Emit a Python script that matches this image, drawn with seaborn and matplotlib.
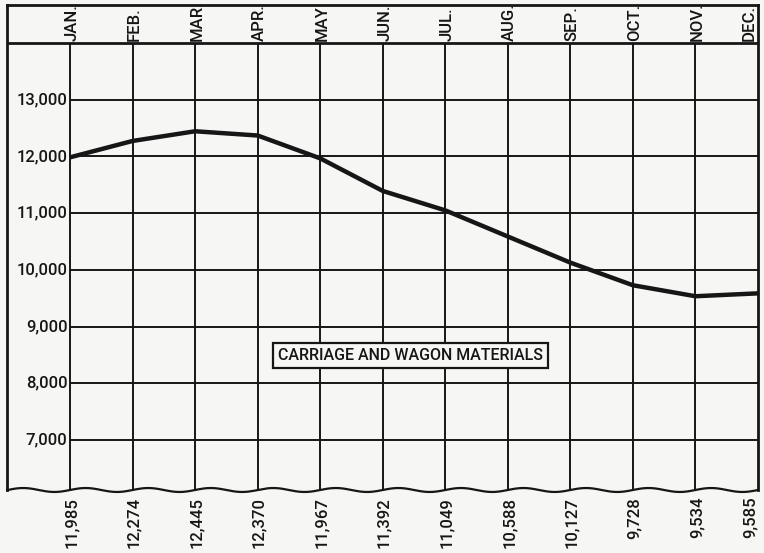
import numpy as np
import pandas as pd
import matplotlib
matplotlib.use('Agg')
import matplotlib.pyplot as plt
import seaborn as sns

months = ['JAN.', 'FEB.', 'MAR.', 'APR.', 'MAY', 'JUN.', 'JUL.', 'AUG.', 'SEP.', 'OCT.', 'NOV.', 'DEC.']
values = [11985, 12274, 12445, 12370, 11967, 11392, 11049, 10588, 10127, 9728, 9534, 9585]
value_labels = ['11,985', '12,274', '12,445', '12,370', '11,967', '11,392',
                '11,049', '10,588', '10,127', '9,728', '9,534', '9,585']
y_ticks = [7000, 8000, 9000, 10000, 11000, 12000, 13000]
y_tick_labels = ['7,000', '8,000', '9,000', '10,000', '11,000', '12,000', '13,000']
title = 'CARRIAGE AND WAGON MATERIALS'

sns.set_style('white')
plt.rcParams['font.family'] = ['Roboto', 'DejaVu Sans']
plt.rcParams['font.weight'] = 'medium'
INK = '#161616'
BG = '#f6f6f4'

df = pd.DataFrame({'month': np.arange(len(months)), 'value': values})

fig = plt.figure(figsize=(7.64, 5.53), dpi=100, facecolor=BG)
ax = fig.add_axes([7/764, 63/553, 751/764, 485/553])
ax.set_facecolor(BG)
x0, x1 = -1.008, 11
y0, ytop, yhead = 6115, 14673, 14000
ax.set_xlim(x0, x1); ax.set_ylim(y0, ytop)

# grid
ax.hlines(y_ticks, 0, 11, color=INK, lw=1.4, zorder=1)
ax.vlines(np.arange(11), y0, yhead, color=INK, lw=1.4, zorder=1)
ax.hlines(yhead, x0, x1, color=INK, lw=2.0, zorder=1)

# frame
ax.spines['bottom'].set_visible(False)
for s in ['top', 'left', 'right']:
    ax.spines[s].set_color(INK); ax.spines[s].set_linewidth(2.0)
ax.set_xticks([]); ax.set_yticks([])

# wavy broken-axis bottom edge
wx = np.linspace(x0, x1, 600)
ax.plot(wx, y0 + 35*np.sin(2*np.pi*wx), color=INK, lw=1.6, clip_on=False, zorder=2)

# data line
sns.lineplot(data=df, x='month', y='value', ax=ax, color=INK, lw=3.2,
             solid_joinstyle='round', solid_capstyle='butt', zorder=3, clip_on=False)
ax.set_xlabel(''); ax.set_ylabel('')

last = len(months) - 1
# month labels in header
for i, m in enumerate(months):
    ax.text(i - 0.02 if i == last else i + 0.03, yhead + 35, m, rotation=90,
            ha='right' if i == last else 'center', va='bottom', fontsize=12, color=INK)

# value labels below
for i, v in enumerate(value_labels):
    ax.text(i - 0.01 if i == last else i + 0.02, y0 - 120, v, rotation=90,
            ha='right' if i == last else 'center', va='top',
            fontsize=12, color=INK, clip_on=False)

# y tick labels
for t, lab in zip(y_ticks, y_tick_labels):
    ax.text(-0.04, t, lab, ha='right', va='center', fontsize=12, color=INK)

ax.text(5.44, 8490, title, ha='center', va='center', fontsize=11.5, color=INK,
        bbox=dict(boxstyle='square,pad=0.3', fc=BG, ec=INK, lw=1.6), zorder=4)

fig.savefig('out.png', dpi=100, facecolor=BG)
